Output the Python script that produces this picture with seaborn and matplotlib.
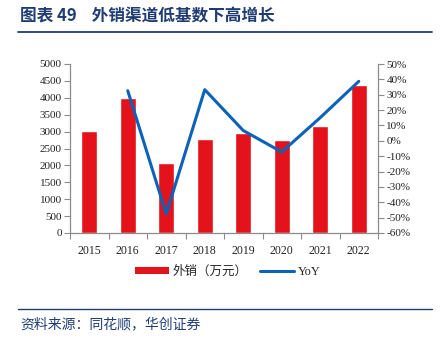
import numpy as np
import pandas as pd
import matplotlib
matplotlib.use("Agg")
import matplotlib.pyplot as plt
from matplotlib.lines import Line2D
from matplotlib.patches import Patch
import seaborn as sns

years = ["2015", "2016", "2017", "2018", "2019", "2020", "2021", "2022"]
export_sales = [3010, 3985, 2085, 2780, 2965, 2750, 3160, 4390]
yoy_pct = [np.nan, 32.6, -47.6, 33.3, 6.7, -7.3, 15.1, 38.7]

sns.set_theme(style="white")
plt.rcParams['font.family'] = ['Liberation Serif', 'Noto Sans CJK SC', 'DejaVu Sans']

BAR_RED = "#E3121B"
LINE_BLUE = "#0B62B8"
TITLE_BLUE = "#1F3D73"
AXIS_GRAY = "#8C8C8C"

df = pd.DataFrame({"year": years, "sales": export_sales, "yoy": yoy_pct})
df["pos"] = np.arange(len(years))

fig = plt.figure(figsize=(4.4, 3.43), dpi=100)
ax = fig.add_axes([70 / 440, 1 - 233 / 343, (378 - 70) / 440, (233 - 64) / 343])

sns.barplot(data=df, x="year", y="sales", color=BAR_RED, width=0.41,
            saturation=1, ax=ax)
ax.set_ylim(0, 5000)
ax.set_yticks(np.arange(0, 5001, 500))
ax.set_xlim(-0.5, len(years) - 0.5)
ax.set_xlabel("")
ax.set_ylabel("")

ax2 = ax.twinx()
sns.lineplot(data=df, x="pos", y="yoy", color=LINE_BLUE, linewidth=2.2, ax=ax2)
ax2.set_ylim(-60, 50)
ax2.set_yticks(np.arange(-60, 51, 10))
ax2.set_yticklabels([f"{v}%" for v in range(-60, 51, 10)])
ax2.set_ylabel("")
ax2.set_xlim(-0.5, len(years) - 0.5)

for a in (ax, ax2):
    for s in a.spines.values():
        s.set_visible(False)

ax.spines["left"].set_visible(True)
ax.spines["bottom"].set_visible(True)
ax2.spines["right"].set_visible(True)
for s in (ax.spines["left"], ax.spines["bottom"], ax2.spines["right"]):
    s.set_color(AXIS_GRAY)
    s.set_linewidth(0.9)

ax.tick_params(axis="y", which="both", left=True, length=4, width=0.8,
               color=AXIS_GRAY, labelsize=8, pad=2, labelcolor="#222222")
ax2.tick_params(axis="y", which="both", right=True, length=4, width=0.8,
                color=AXIS_GRAY, labelsize=8, pad=2, labelcolor="#222222")

# x ticks sit on category boundaries, labels centred under bars
ax.set_xticks(np.arange(len(years)))
ax.set_xticklabels(years)
ax.tick_params(axis="x", which="major", bottom=False, labelsize=8.5,
               pad=3, labelcolor="#222222")
ax.set_xticks(np.arange(-0.5, len(years), 1.0), minor=True)
ax.tick_params(axis="x", which="minor", bottom=True, length=4, width=0.8,
               color=AXIS_GRAY)

# legend
handles = [Patch(facecolor=BAR_RED, edgecolor="none"),
           Line2D([0], [0], color=LINE_BLUE, linewidth=2.2)]
fig.legend(handles, ["外销（万元）", "YoY"], loc="center",
           bbox_to_anchor=(0.518, 1 - 272 / 343), ncol=2, frameon=False,
           fontsize=9, handlelength=2.7, handleheight=0.55,
           columnspacing=1.0, handletextpad=0.3)

# title and rules
fig.text(20 / 440, 1 - 16 / 343, "图表 49    外销渠道低基数下高增长",
         fontsize=12, fontweight="bold", color=TITLE_BLUE,
         va="center", ha="left",
         family=['Noto Sans CJK SC', 'DejaVu Sans'])
fig.add_artist(Line2D([18 / 440, 432 / 440], [1 - 32 / 343, 1 - 32 / 343],
                      color=TITLE_BLUE, linewidth=1.3))
fig.add_artist(Line2D([18 / 440, 432 / 440], [1 - 309 / 343, 1 - 309 / 343],
                      color=TITLE_BLUE, linewidth=1.0))
fig.text(20 / 440, 1 - 324 / 343, "资料来源：同花顺，华创证券",
         fontsize=10, style="italic", color=TITLE_BLUE,
         va="center", ha="left",
         family=['Noto Sans CJK SC', 'DejaVu Sans'])

fig.savefig("out.png", dpi=100, facecolor="white")
